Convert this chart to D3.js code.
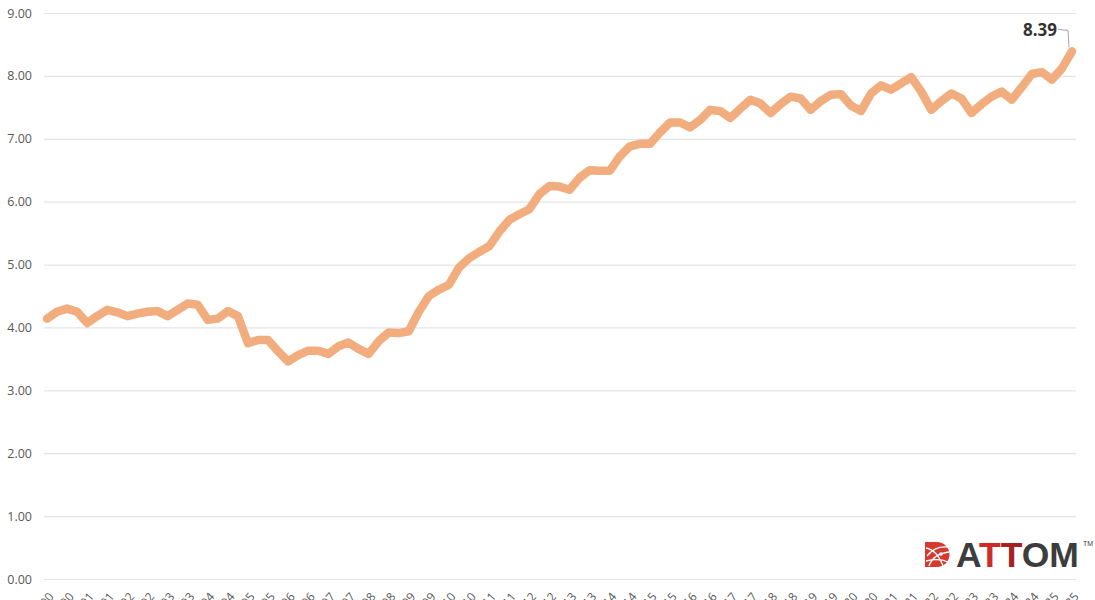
<!DOCTYPE html>
<html>
<head>
<meta charset="utf-8">
<script src="https://cdn.jsdelivr.net/npm/d3@7"></script>
<style>
  body { margin: 0; background: #fff; }
  svg { display: block; }
  .axis text { font-family: "Open Sans", sans-serif; fill: #595959; }
  .axis .domain { display: none; }
</style>
</head>
<body>
<svg id="chart" width="1095" height="600"></svg>
<script>
// quarterly series, Q1 2000 .. Q3 2025
var years = d3.range(2000, 2026);
var quarterNames = ["Q1", "Q2", "Q3", "Q4"];
var quarters = [];
years.forEach(function (y) {
    quarterNames.forEach(function (q) { quarters.push(q + " " + String(y).slice(2)); });
});
quarters = quarters.slice(0, 103);

var values = [
    4.14, 4.25, 4.30, 4.25, 4.07, 4.18, 4.28, 4.24, 4.18, 4.22,
    4.25, 4.26, 4.18, 4.28, 4.38, 4.36, 4.12, 4.14, 4.26, 4.18,
    3.75, 3.80, 3.80, 3.62, 3.46, 3.56, 3.63, 3.63, 3.58, 3.70,
    3.76, 3.66, 3.58, 3.78, 3.92, 3.91, 3.94, 4.25, 4.50, 4.60,
    4.68, 4.95, 5.10, 5.20, 5.29, 5.52, 5.71, 5.80, 5.88, 6.12,
    6.25, 6.24, 6.19, 6.38, 6.50, 6.49, 6.49, 6.72, 6.88, 6.92,
    6.92, 7.10, 7.26, 7.26, 7.18, 7.30, 7.46, 7.44, 7.33, 7.48,
    7.62, 7.56, 7.41, 7.55, 7.67, 7.64, 7.46, 7.60, 7.70, 7.71,
    7.53, 7.44, 7.72, 7.85, 7.78, 7.88, 7.98, 7.75, 7.46, 7.60,
    7.72, 7.64, 7.41, 7.55, 7.67, 7.75, 7.62, 7.82, 8.03, 8.06,
    7.94, 8.12, 8.39
];

var yTicks = [0, 1, 2, 3, 4, 5, 6, 7, 8, 9];

var svg = d3.select("#chart");

var x = d3.scalePoint().domain(quarters).range([47, 1072]);
var y = d3.scaleLinear().domain([0, 9]).range([579, 13]);

// y axis + gridlines
var yAxis = d3.axisLeft(y)
    .tickValues(yTicks)
    .tickFormat(d3.format(".2f"))
    .tickSize(-(1076 - 44))
    .tickPadding(12);

svg.append("g")
    .attr("class", "axis axis--y")
    .attr("transform", "translate(44,0)")
    .call(yAxis)
    .call(function (g) {
        g.selectAll(".tick line").attr("stroke", "#e4e4e4").attr("stroke-width", 1.2);
        g.selectAll(".tick text").attr("font-size", "12.5px");
    });

// x axis, every other quarter labelled, rotated (cut by the bottom edge)
var xAxis = d3.axisBottom(x)
    .tickValues(quarters.filter(function (d, i) { return i % 2 === 0; }))
    .tickSize(0)
    .tickPadding(0);

svg.append("g")
    .attr("class", "axis axis--x")
    .attr("transform", "translate(0,586)")
    .call(xAxis)
    .call(function (g) {
        g.selectAll(".tick text")
            .attr("font-size", "12px")
            .attr("fill", "#6b6b6b")
            .attr("text-anchor", "end")
            .attr("dy", "0")
            .attr("y", 0)
            .attr("transform", "translate(7,11) rotate(-50)");
    });

// line
var line = d3.line()
    .x(function (d, i) { return x(quarters[i]); })
    .y(function (d) { return y(d); });

svg.append("path")
    .datum(values)
    .attr("fill", "none")
    .attr("stroke", "#F2AD7E")
    .attr("stroke-width", 8.5)
    .attr("stroke-linejoin", "round")
    .attr("stroke-linecap", "round")
    .attr("d", line);

// last value callout
var last = values.length - 1;
var lx = x(quarters[last]), ly = y(values[last]);

svg.append("path")
    .attr("fill", "none")
    .attr("stroke", "#a6a6a6")
    .attr("stroke-width", 1)
    .attr("d", "M" + (lx - 14) + "," + (ly - 22) + "L" + (lx - 4) + "," + (ly - 21) + "L" + (lx - 3) + "," + (ly - 4));

svg.append("text")
    .attr("x", lx - 15)
    .attr("y", ly - 15)
    .attr("text-anchor", "end")
    .attr("font-family", "Open Sans, sans-serif")
    .attr("font-weight", "bold")
    .attr("font-size", "17px")
    .attr("fill", "#333")
    .text(values[last].toFixed(2));

// ATTOM logo
var logo = svg.append("g").attr("transform", "translate(925,542)");

logo.append("path")
    .attr("d", "M0,0 L12,0 A12.5,12.5 0 0 1 12,25 L0,25 Z")
    .attr("fill", "#d43a2f");
logo.append("path")
    .attr("fill", "none")
    .attr("stroke", "#fff")
    .attr("stroke-width", 1.3)
    .attr("d", "M1,6 Q12,8 18,24 M2,14 Q10,4 22,5 M4,24 Q8,12 24,10 M1,19 Q14,16 23,20");
logo.append("circle").attr("cx", 16).attr("cy", 12).attr("r", 1.8).attr("fill", "#fff");

var word = logo.append("text")
    .attr("x", 31)
    .attr("y", 25)
    .attr("font-family", "Liberation Sans, Arial, sans-serif")
    .attr("font-weight", "bold")
    .attr("font-size", "35.5px")
    .attr("fill", "#3d3d3d");
word.append("tspan").text("A");
word.append("tspan").attr("fill", "#cf2a2a").text("T");
word.append("tspan").attr("fill", "#a8201f").text("T");
word.append("tspan").text("OM");

logo.append("text")
    .attr("x", 158)
    .attr("y", 4)
    .attr("font-family", "Liberation Sans, Arial, sans-serif")
    .attr("font-size", "7px")
    .attr("fill", "#3d3d3d")
    .text("TM");
</script>
</body>
</html>
